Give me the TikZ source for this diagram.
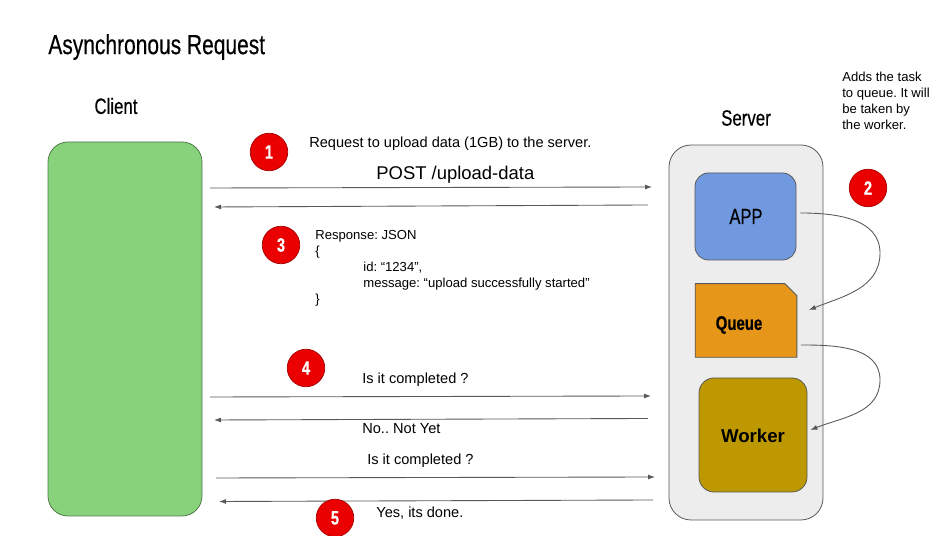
\documentclass[tikz,border=0pt]{standalone}
\usepackage{fontspec}
\setmainfont{Liberation Sans}
\newfontfamily\condfont[FakeStretch=0.76,FakeBold=0.35]{Liberation Sans}
\usetikzlibrary{arrows.meta}
\definecolor{clientgreen}{HTML}{88D27C}
\definecolor{clientedge}{HTML}{4F7A4A}
\definecolor{servergray}{HTML}{EDEDED}
\definecolor{appblue}{HTML}{7099E0}
\definecolor{queueorange}{HTML}{E69619}
\definecolor{workergold}{HTML}{BD9800}
\definecolor{linegray}{HTML}{595959}
\definecolor{badgered}{HTML}{EA0000}
\tikzset{
  box/.style={draw=linegray,line width=0.45pt,inner sep=0pt},
  badge/.style={circle,draw=badgered!70!black,fill=badgered,line width=0.4pt,minimum size=0.75cm,inner sep=0pt,
    text=white,font=\condfont\bfseries\fontsize{11}{12}\selectfont},
  msg/.style={anchor=west,inner sep=0pt,font=\fontsize{7.45}{9.07}\selectfont,align=left},
  bigmsg/.style={msg,font=\fontsize{8.3}{10}\selectfont},
  heading/.style={inner sep=0pt,font=\condfont\fontsize{12.6}{14}\selectfont},
  call/.style={draw=linegray,line width=0.5pt,-{Latex[length=0.14cm,width=0.1cm]}},
}
\begin{document}
\frenchspacing
\begin{tikzpicture}
    \useasboundingbox (0,0) rectangle (19.02,10.72);
    % Headings
    \node[heading,anchor=west,font=\condfont\fontsize{15.7}{18}\selectfont] (title) at (0.96,9.78) {Asynchronous Request};
    \node[heading] (clienthead) at (2.32,8.60) {Client};
    \node[heading] (serverhead) at (14.92,8.36) {Server};
    % Client and server
    \node[box,draw=clientedge,fill=clientgreen,rounded corners=0.4cm,minimum width=3.08cm,minimum height=7.48cm] (client) at (2.50,4.14) {};
    \node[box,fill=servergray,rounded corners=0.44cm,minimum width=3.08cm,minimum height=7.50cm] (server) at (14.92,4.07) {};
    % Parts of the server
    \node[box,fill=appblue,rounded corners=0.27cm,minimum width=2.02cm,minimum height=1.74cm] (app) at (14.91,6.39) {};
    \node[heading,font=\condfont\fontsize{12.4}{14}\selectfont] (applabel) at (14.92,6.39) {APP};
    \node[inner sep=0pt,minimum width=2.02cm,minimum height=1.46cm] (queue) at (14.92,4.31) {};
    \draw[box,fill=queueorange] (queue.south west) -- (queue.north west) -- ([xshift=-0.24cm]queue.north east) -- ([yshift=-0.24cm]queue.north east) -- (queue.south east) -- cycle;
    \node[heading,font=\condfont\bfseries\fontsize{11.2}{12}\selectfont] (queuelabel) at (14.78,4.22) {Queue};
    \node[box,fill=workergold,rounded corners=0.3cm,minimum width=2.16cm,minimum height=2.28cm] (worker) at (15.06,2.02) {};
    \node[inner sep=0pt,font=\bfseries\fontsize{10.6}{12}\selectfont] (workerlabel) at (15.06,2.00) {Worker};
    % Curved arrows inside the server
    \draw[call] ([xshift=0.08cm,yshift=0.07cm]app.east) to[out=0,in=90] (17.6,5.66) to[out=-90,in=22] ([xshift=0.24cm,yshift=0.21cm]queue.east);
    \draw[call] ([xshift=0.08cm,yshift=-0.49cm]queue.east) to[out=0,in=90] (17.6,3.12) to[out=-90,in=22] ([xshift=0.06cm,yshift=0.10cm]worker.east);
    % Ends of the calls
    \coordinate (reqfrom) at (4.20,6.96);
    \coordinate (reqto) at (13.04,6.98);
    \coordinate (respfrom) at (12.96,6.62);
    \coordinate (respto) at (4.28,6.58);
    \coordinate (pollfrom) at (4.20,2.78);
    \coordinate (pollto) at (13.02,2.80);
    \coordinate (nofrom) at (12.96,2.35);
    \coordinate (noto) at (4.28,2.32);
    \coordinate (againfrom) at (4.32,1.16);
    \coordinate (againto) at (13.10,1.18);
    \coordinate (yesfrom) at (13.06,0.72);
    \coordinate (yesto) at (4.38,0.69);
    \draw[call] (reqfrom) -- (reqto);
    \draw[call] (respfrom) -- (respto);
    \draw[call] (pollfrom) -- (pollto);
    \draw[call] (nofrom) -- (noto);
    \draw[call] (againfrom) -- (againto);
    \draw[call] (yesfrom) -- (yesto);
    % Texts
    \node[bigmsg] (reqtext) at (6.18,7.84) {Request to upload data (1GB) to the server.};
    \node[msg,font=\fontsize{10.5}{12}\selectfont] (posttext) at (7.52,7.22) {POST /upload-data};
    \node[msg] (resptext) at (6.30,5.35) {Response: JSON\\\{\\\hspace*{0.96cm}id: “1234”,\\\hspace*{0.96cm}message: “upload successfully started”\\\}};
    \node[msg] (addstext) at (16.84,8.70) {Adds the task\\to queue. It will\\be taken by\\the worker.};
    \node[bigmsg] (polltext) at (7.24,3.12) {Is it completed ?};
    \node[bigmsg] (notext) at (7.24,2.14) {No.. Not Yet};
    \node[bigmsg] (againtext) at (7.34,1.50) {Is it completed ?};
    \node[bigmsg] (yestext) at (7.52,0.46) {Yes, its done.};
    % Numbered steps
    \node[badge] (one) at (5.38,7.68) {1};
    \node[badge] (two) at (17.36,6.96) {2};
    \node[badge] (three) at (5.62,5.82) {3};
    \node[badge] (four) at (6.12,3.36) {4};
    \node[badge] (five) at (6.70,0.36) {5};
\end{tikzpicture}
\end{document}
